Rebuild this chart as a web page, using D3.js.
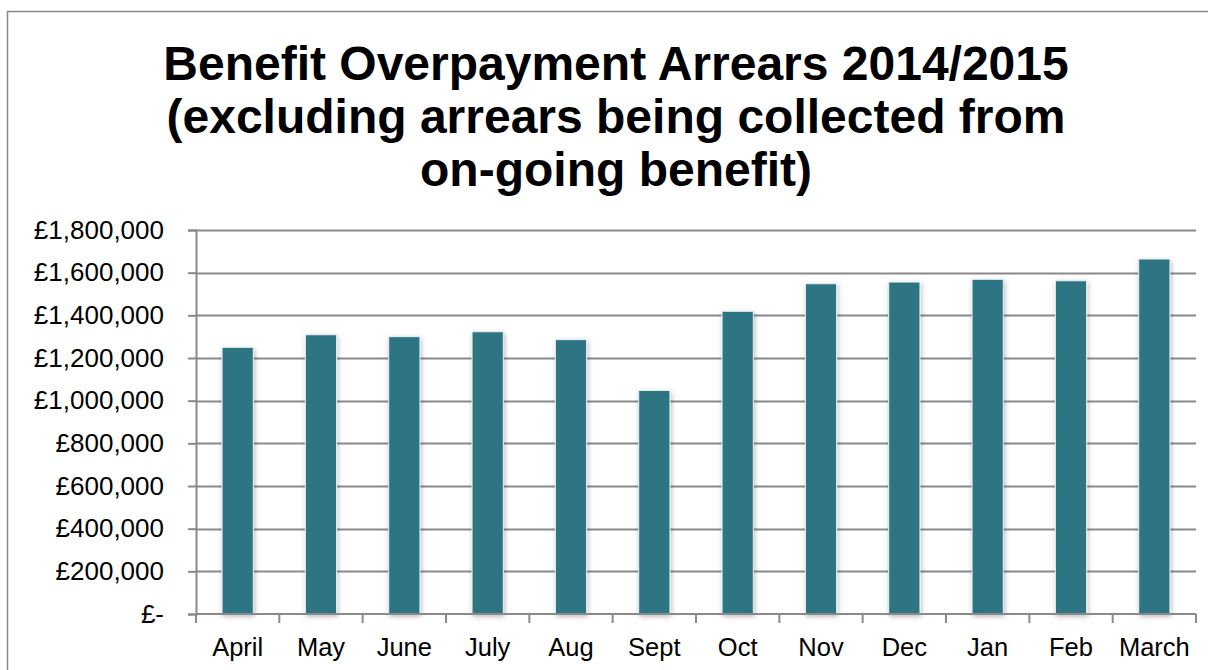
<!DOCTYPE html>
<html>
<head>
<meta charset="utf-8">
<script src="https://cdn.jsdelivr.net/npm/d3@7"></script>
<style>
  html, body { margin: 0; padding: 0; background: #fff; }
  svg { display: block; }
</style>
</head>
<body>
<div id="chart"></div>
<script>
// Monthly arrears, April 2014 to March 2015
const months = ["April", "May", "June", "July", "Aug", "Sept", "Oct", "Nov", "Dec", "Jan", "Feb", "March"];
const arrears = [1250000, 1309000, 1300000, 1323000, 1286000, 1048000, 1419000, 1548000, 1556000, 1569000, 1562000, 1664000];
const yTicks = [0, 200000, 400000, 600000, 800000, 1000000, 1200000, 1400000, 1600000, 1800000];
const titleLines = [
  "Benefit Overpayment Arrears 2014/2015",
  "(excluding arrears being collected from",
  "on-going benefit)"
];

const W = 1208, H = 670;
const margin = { left: 196, right: 12, top: 230, bottom: 56 };
const gridColor = "#8a8a8a";
const barColor = "#2e7483";
const font = "'Liberation Sans', Arial, sans-serif";

const svg = d3.select("#chart").append("svg")
  .attr("width", W).attr("height", H);

const defs = svg.append("defs");
const shadow = defs.append("filter").attr("id", "barShadow")
  .attr("x", "-30%").attr("y", "-10%").attr("width", "160%").attr("height", "130%");
shadow.append("feDropShadow")
  .attr("dx", 1).attr("dy", 2).attr("stdDeviation", 2.5)
  .attr("flood-color", "#000").attr("flood-opacity", 0.28);

// chart area frame
svg.append("rect")
  .attr("x", 7.5).attr("y", 11.5).attr("width", W + 20).attr("height", H + 20)
  .attr("fill", "none").attr("stroke", "#8a8a8a").attr("stroke-width", 1.5);

// title
const title = svg.append("text")
  .attr("text-anchor", "middle")
  .attr("font-family", font).attr("font-weight", "bold")
  .attr("font-size", 48).attr("fill", "#000");
titleLines.forEach((t, i) => {
  title.append("tspan").attr("x", 616).attr("y", 80 + i * 53).text(t);
});

const x = d3.scaleBand()
  .domain(months)
  .range([margin.left, W - margin.right])
  .paddingInner(0.625).paddingOuter(0.3125);

const y = d3.scaleLinear()
  .domain([0, 1800000])
  .range([H - margin.bottom, margin.top]);

// horizontal gridlines
svg.append("g")
  .selectAll("line").data(yTicks.slice(1)).join("line")
  .attr("x1", margin.left).attr("x2", W - margin.right)
  .attr("y1", d => Math.round(y(d)) + 0.5).attr("y2", d => Math.round(y(d)) + 0.5)
  .attr("stroke", gridColor).attr("stroke-width", 2);

// bars
svg.append("g")
  .selectAll("rect").data(months).join("rect")
  .attr("x", d => x(d))
  .attr("width", x.bandwidth())
  .attr("y", (d, i) => y(arrears[i]))
  .attr("height", (d, i) => y(0) - y(arrears[i]))
  .attr("fill", barColor)
  .attr("stroke", "#e8f1f3").attr("stroke-width", 1)
  .attr("filter", "url(#barShadow)");

// y axis
const fmt = d => d === 0 ? "£-" : "£" + d3.format(",")(d);
const yAxis = svg.append("g")
  .attr("transform", `translate(${margin.left},0)`)
  .call(d3.axisLeft(y).tickValues(yTicks).tickFormat(fmt).tickSize(8).tickPadding(24));
yAxis.select(".domain").attr("stroke", gridColor).attr("stroke-width", 2);
yAxis.selectAll(".tick line").attr("stroke", gridColor).attr("stroke-width", 2);
yAxis.selectAll(".tick text")
  .attr("font-family", font).attr("font-size", 26).attr("fill", "#000");

// x axis with ticks at category boundaries
const xBase = svg.append("g").attr("transform", `translate(0,${y(0)})`);
xBase.append("line")
  .attr("x1", margin.left).attr("x2", W - margin.right)
  .attr("stroke", gridColor).attr("stroke-width", 2);
const step = x.step();
const bounds = d3.range(months.length + 1).map(i => margin.left + i * step);
xBase.selectAll("line.tk").data(bounds).join("line").attr("class", "tk")
  .attr("x1", d => d).attr("x2", d => d)
  .attr("y1", 0).attr("y2", 9)
  .attr("stroke", gridColor).attr("stroke-width", 2);
xBase.selectAll("text").data(months).join("text")
  .attr("x", d => x(d) + x.bandwidth() / 2)
  .attr("y", 42)
  .attr("text-anchor", "middle")
  .attr("font-family", font).attr("font-size", 25.5).attr("fill", "#000")
  .text(d => d);
</script>
</body>
</html>
